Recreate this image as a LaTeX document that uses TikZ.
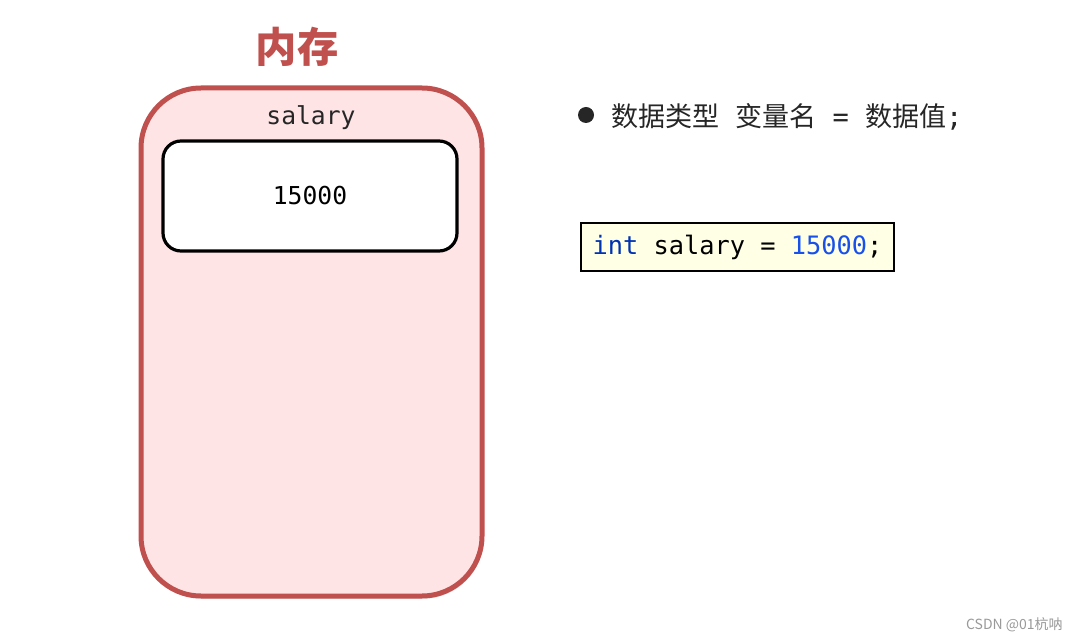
\documentclass[tikz,border=0pt]{standalone}
\usepackage{fontspec}
\setmonofont{DejaVu Sans Mono}
\newfontfamily\cjk{Noto Sans CJK SC}
\usepackage{xcolor}
\usepackage{tikz}
\usetikzlibrary{shadows, positioning}

\definecolor{memred}{HTML}{C0504D}
\definecolor{mempink}{HTML}{FFE4E6}
\definecolor{codebg}{HTML}{FFFFE5}
\definecolor{kwblue}{HTML}{0033B3}
\definecolor{numblue}{HTML}{1750EB}
\definecolor{txtgray}{HTML}{262626}

\begin{document}
\begin{tikzpicture}[
  x=0.75pt, y=-0.75pt,
  every node/.style = {inner sep=0pt},
  mem/.style  = {draw=memred, line width=3.75pt, fill=mempink,
                 rounded corners=45pt, minimum width=255.75pt,
                 minimum height=381pt,
                 drop shadow={opacity=0.25, shadow xshift=1pt,
                              shadow yshift=-2pt}},
  cell/.style = {draw=black, line width=2.4pt, fill=white,
                 rounded corners=13.5pt, minimum width=220.5pt,
                 minimum height=82.5pt, font=\ttfamily\fontsize{18.5}{22}\selectfont},
  code/.style = {draw=black, line width=1.3pt, fill=codebg,
                 minimum width=234.75pt, minimum height=36pt,
                 font=\ttfamily\fontsize{19}{22}\selectfont},
]

% page
\useasboundingbox (0,0) rectangle (1078,641);

% ── MEMORY ──────────────────────────────────────────────────────────────────
\node[font=\cjk\bfseries\fontsize{31}{36}\selectfont, text=memred]
  at (297, 47) (title) {内存};
\node[mem] at (311.5, 342) (memory) {};
\node[font=\ttfamily\fontsize{18.5}{22}\selectfont, text=txtgray]
  at (311, 118) (varname) {salary};
\node[cell] at (310, 196) (value) {15000};

% ── SYNTAX ──────────────────────────────────────────────────────────────────
\node[circle, fill=txtgray, minimum size=12pt] at (586, 115) (bullet) {};
\node[anchor=west, text=txtgray, font=\cjk\fontsize{20.3}{24}\selectfont]
  at (611, 117) (syntax)
  {数据类型\hspace{12pt}变量名\hspace{12pt}\texttt{=}\hspace{12pt}数据值\texttt{;}};

\node[code] at (737.5, 247) (example)
  {\raisebox{-1pt}{\textcolor{kwblue}{int} salary = \textcolor{numblue}{15000};}};

% watermark
\node[anchor=east, text=black!40, font=\cjk\fontsize{10.5}{12}\selectfont]
  at (1063, 625) (mark) {CSDN @01杭呐};

\end{tikzpicture}
\end{document}
